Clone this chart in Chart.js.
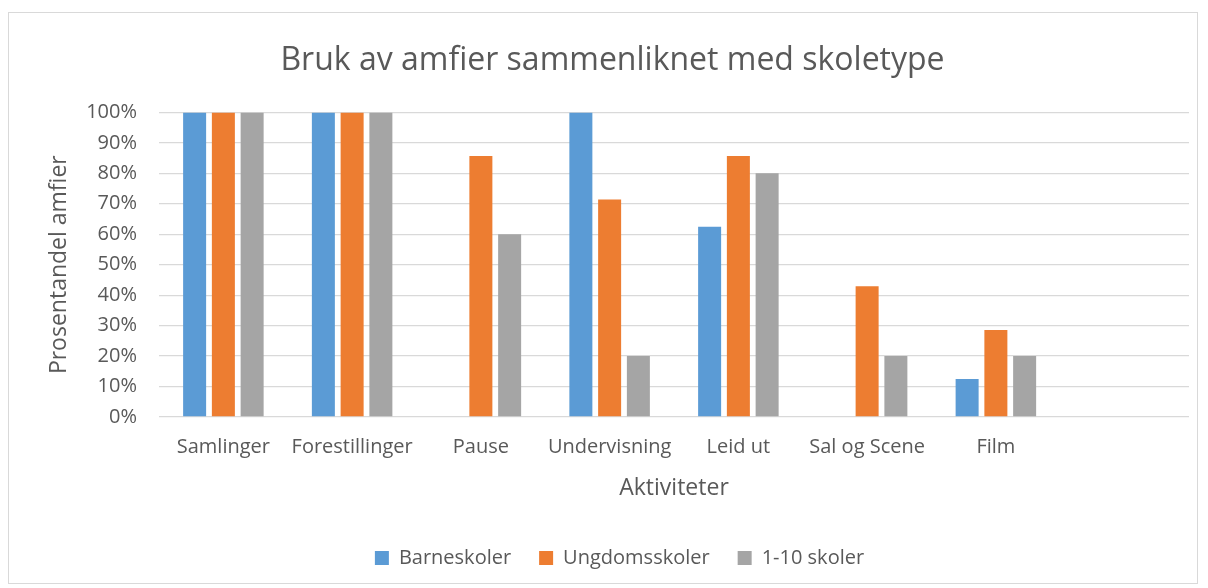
<!DOCTYPE html>
<html>
<head>
<meta charset="utf-8">
<script src="https://cdn.jsdelivr.net/npm/chart.js@4/dist/chart.umd.min.js"></script>
<style>
    html, body { margin: 0; padding: 0; background: #ffffff; }
    #wrap { width: 1208px; height: 588px; position: relative; }
</style>
</head>
<body>
<div id="wrap"><canvas id="activityChart"></canvas></div>
<script>
// Aktiviteter (siste kategori står tom, som i regnearket)
const activities = ['Samlinger', 'Forestillinger', 'Pause', 'Undervisning', 'Leid ut', 'Sal og Scene', 'Film', ''];

// Andel amfier i prosent per skoletype
const barneskoler = [100, 100, 0, 100, 62.5, 0, 12.5];
const ungdomsskoler = [100, 100, 85.7, 71.4, 85.7, 42.9, 28.6];
const skoler110 = [100, 100, 60, 20, 80, 20, 20];

const yTicks = [0, 10, 20, 30, 40, 50, 60, 70, 80, 90, 100];

const textColor = '#595959';
const gridColor = '#d9d9d9';
const fontFamily = '"Open Sans", "Segoe UI", Calibri, sans-serif';

// tynn ramme rundt hele diagrammet
const framePlugin = {
    id: 'frame',
    beforeDraw(chart) {
        const ctx = chart.ctx;
        ctx.save();
        ctx.strokeStyle = gridColor;
        ctx.lineWidth = 1;
        ctx.strokeRect(8.5, 12.5, 1189, 571);
        ctx.restore();
    }
};

// tittel og forklaring står litt til høyre for midten av lerretet
const nudgePlugin = {
    id: 'nudge',
    afterLayout(chart) {
        const shift = (box, dx) => {
            if (!box) return;
            box.left += dx;
            box.right += dx;
        };
        shift(chart.titleBlock, 8);
        shift(chart.legend, 15);
    }
};

document.addEventListener('DOMContentLoaded', () => {
    const ctx = document.getElementById('activityChart');
    new Chart(ctx, {
        type: 'bar',
        data: {
            labels: activities,
            datasets: [
                { label: 'Barneskoler', data: barneskoler, backgroundColor: '#5b9bd5' },
                { label: 'Ungdomsskoler', data: ungdomsskoler, backgroundColor: '#ed7d31' },
                { label: '1-10 skoler', data: skoler110, backgroundColor: '#a5a5a5' }
            ]
        },
        options: {
            responsive: true,
            maintainAspectRatio: false,
            animation: false,
            categoryPercentage: 0.67,
            barPercentage: 0.8,
            layout: {
                padding: { left: 20, right: 19, top: 0, bottom: 10 }
            },
            plugins: {
                title: {
                    display: true,
                    text: 'Bruk av amfier sammenliknet med skoletype',
                    color: textColor,
                    font: { family: fontFamily, size: 32, weight: 'normal' },
                    padding: { top: 42, bottom: 32 }
                },
                legend: {
                    position: 'bottom',
                    labels: {
                        color: textColor,
                        font: { family: fontFamily, size: 20 },
                        boxWidth: 14,
                        boxHeight: 14,
                        padding: 28
                    }
                },
                tooltip: { enabled: false }
            },
            scales: {
                x: {
                    afterFit(scale) {
                        scale.height = 103;
                    },
                    grid: { display: false, drawTicks: false },
                    border: { display: false },
                    ticks: {
                        color: textColor,
                        font: { family: fontFamily, size: 20 },
                        padding: 18,
                        maxRotation: 0,
                        autoSkip: false
                    },
                    title: {
                        display: true,
                        text: 'Aktiviteter',
                        color: textColor,
                        font: { family: fontFamily, size: 23 },
                        padding: { top: 10, bottom: 18 }
                    }
                },
                y: {
                    min: 0,
                    max: 100,
                    afterFit(scale) {
                        scale.width = 139;
                    },
                    afterBuildTicks(scale) {
                        scale.ticks = yTicks.map((v) => ({ value: v }));
                    },
                    grid: { color: gridColor, lineWidth: 1.3, drawTicks: false },
                    border: { display: false },
                    ticks: {
                        color: textColor,
                        font: { family: fontFamily, size: 20 },
                        padding: 22,
                        callback: (value) => value + '%'
                    },
                    title: {
                        display: true,
                        text: 'Prosentandel amfier',
                        color: textColor,
                        font: { family: fontFamily, size: 23 },
                        padding: { top: 26, bottom: 0 }
                    }
                }
            }
        },
        plugins: [framePlugin, nudgePlugin]
    });
});
</script>
</body>
</html>
